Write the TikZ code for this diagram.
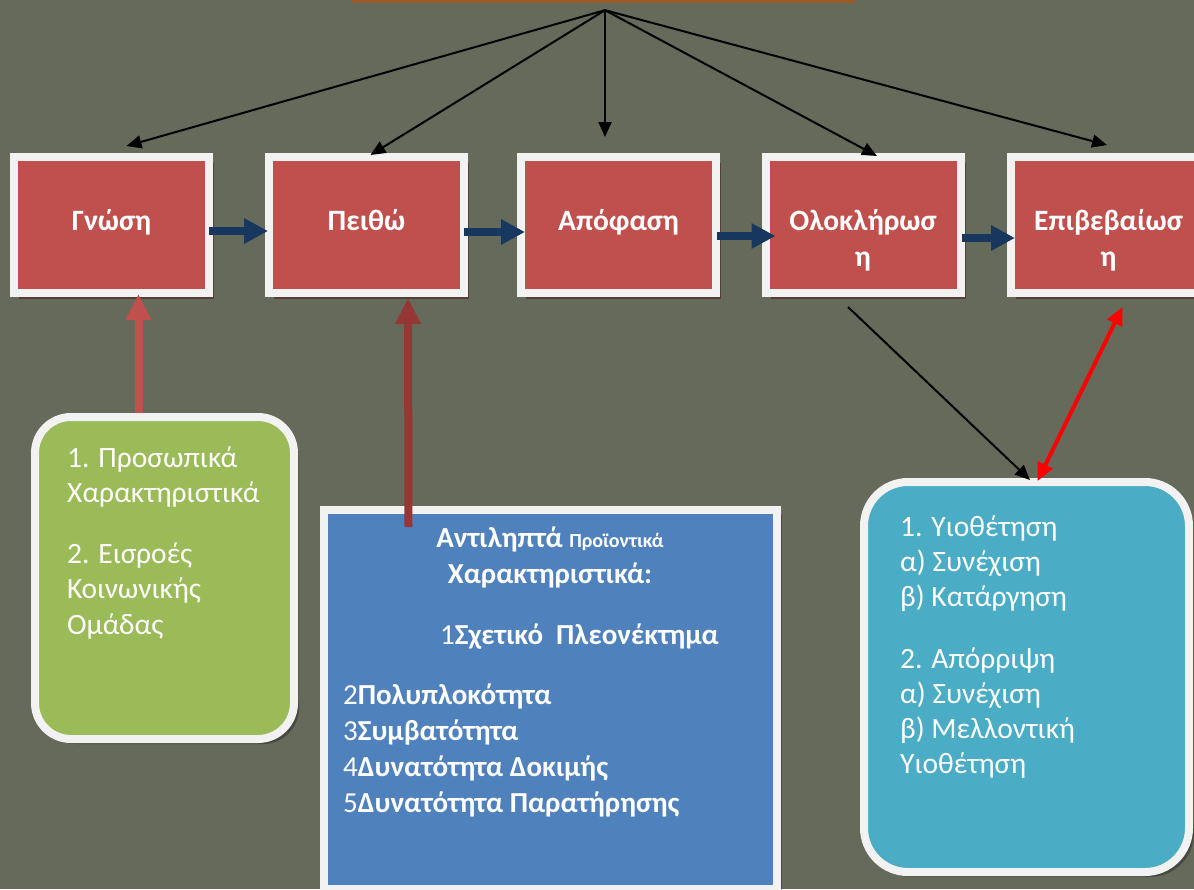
\documentclass[tikz,border=0pt]{standalone}
\usepackage{fontspec}
\setmainfont{Carlito}
\usetikzlibrary{arrows.meta,shadows}

\definecolor{backdrop}{HTML}{656A5B}
\definecolor{barcol}{HTML}{9C5A2C}
\definecolor{stagefill}{HTML}{C0504D}
\definecolor{framecol}{HTML}{F2F2F2}
\definecolor{flowcol}{HTML}{17375E}
\definecolor{greenfill}{HTML}{9BBB59}
\definecolor{bluefill}{HTML}{4F81BD}
\definecolor{cyanfill}{HTML}{4BACC6}
\definecolor{darkred}{HTML}{953735}
\tikzset{
  titlebar/.style={rectangle,fill=barcol,minimum width=503pt,minimum height=6pt,inner sep=0pt},
  stage/.style={rectangle,fill=stagefill,draw=framecol,line width=8pt,
    minimum width=195pt,minimum height=136pt,
    drop shadow={shadow xshift=5pt,shadow yshift=-6pt,fill=stagefill!40!black,opacity=.6}},
  stagetext/.style={text=white,inner sep=0pt,anchor=base,align=center,
    font=\bfseries\fontsize{29.5}{36}\selectfont},
  panel/.style={rectangle,draw=framecol,line width=8pt,
    drop shadow={shadow xshift=5pt,shadow yshift=-5pt,fill=black,opacity=.3}},
  boxtext/.style={text=white,inner sep=0pt,anchor=base west,align=left,
    font=\fontsize{29.5}{35.5}\selectfont},
  flow/.style={-{Triangle[length=24pt,width=24pt]},line width=8pt,draw=flowcol},
  fan/.style={-{Triangle[length=15pt,width=13pt]},line width=2pt,draw=black},
  feed/.style={-{Triangle[length=26pt,width=24pt]},line width=8pt},
}

\begin{document}
\begin{tikzpicture}[x=1pt,y=-1pt]
  \useasboundingbox (0,0) rectangle (1194,889);
  \fill[backdrop] (0,0) rectangle (1194,889);
  \node[titlebar] (title) at (603.5,0) {};

  % stages of the decision process
  \node[stage] (gnosi)       at (111.5,225) {};
  \node[stage] (peitho)      at (366.5,225) {};
  \node[stage] (apofasi)     at (618.5,225) {};
  \node[stage] (oloklirosi)  at (863,225) {};
  \node[stage] (epivevaiosi) at (1108.5,225) {};
  % base of a node is the baseline of its last line
  \node[stagetext] (gnosit)       at ([yshift=-77pt]gnosi.north) {Γνώση};
  \node[stagetext] (peithot)      at ([yshift=-77pt]peitho.north) {Πειθώ};
  \node[stagetext] (apofasit)     at ([yshift=-77pt]apofasi.north) {Απόφαση};
  \node[stagetext] (oloklirosit)  at ([yshift=-113pt]oloklirosi.north) {Ολοκλήρωσ\\η};
  \node[stagetext] (epivevaiosit) at ([yshift=-113pt]epivevaiosi.north) {Επιβεβαίωσ\\η};

  \draw[flow] ([xshift=-4pt,yshift=-6pt]gnosi.east) -- ([xshift=3pt,yshift=-6pt]peitho.west);
  \draw[flow] ([xshift=-4pt,yshift=-7pt]peitho.east) -- ([xshift=8pt,yshift=-7pt]apofasi.west);
  \draw[flow] ([xshift=-3pt,yshift=-11pt]apofasi.east) -- ([xshift=14pt,yshift=-11pt]oloklirosi.west);
  \draw[flow] ([xshift=-3pt,yshift=-13pt]oloklirosi.east) -- ([xshift=8pt,yshift=-13pt]epivevaiosi.west);

  % fan from the title
  \coordinate (src) at ([yshift=-7pt]title.south -| 605,0);
  \draw[fan] (src) -- ([xshift=15pt,yshift=7pt]gnosi.north);
  \draw[fan] (src) -- ([xshift=4pt,yshift=-2pt]peitho.north);
  \draw[fan] (src) -- ([xshift=-13.5pt,yshift=16pt]apofasi.north);
  \draw[fan] (src) -- ([xshift=14pt,yshift=-3pt]oloklirosi.north);
  \draw[fan] (src) -- ([xshift=-1.5pt,yshift=8pt]epivevaiosi.north);

  % factors
  \node[panel,fill=greenfill,rounded corners=36pt,minimum width=259pt,minimum height=322pt]
    (prosopika) at (164.5,578) {};
  \node[boxtext] (prosopikat) at (67,634)
    {1. Προσωπικά\\Χαρακτηριστικά\\[25pt]2. Εισροές\\Κοινωνικής\\Ομάδας};

  \node[panel,fill=bluefill,minimum width=453pt,minimum height=379pt]
    (antilipta) at (550.5,699.5) {};
  \node[boxtext,anchor=base,align=center,font=\bfseries\fontsize{29}{36}\selectfont]
    (antiliptat) at (550,583)
    {Αντιληπτά {\fontsize{20}{24}\selectfont Προϊοντικά}\\Χαρακτηριστικά:};
  \node[boxtext,font=\fontsize{29}{36}\selectfont] (pleonektima) at (440,644)
    {1\textbf{Σχετικό\ \ Πλεονέκτημα}};
  \node[boxtext,font=\fontsize{29}{35.7}\selectfont] (idiotites) at (343,812)
    {2\textbf{Πολυπλοκότητα}\\3\textbf{Συμβατότητα}\\4\textbf{Δυνατότητα Δοκιμής}\\5\textbf{Δυνατότητα Παρατήρησης}};

  \node[panel,fill=cyanfill,rounded corners=44pt,minimum width=325pt,minimum height=390pt]
    (ypothetisi) at (1026.5,677) {};
  \node[boxtext,font=\fontsize{29.5}{35}\selectfont] (ypothetisit) at (900,773)
    {1. Υιοθέτηση\\α) Συνέχιση\\β) Κατάργηση\\[27pt]2. Απόρριψη\\α) Συνέχιση\\β) Μελλοντική\\Υιοθέτηση};

  % feeds into the stages
  \draw[feed,draw=stagefill] ([xshift=-26pt]prosopika.north) -- ([xshift=27pt,yshift=3pt]gnosi.south);
  \draw[feed,draw=darkred] ([xshift=-142pt,yshift=-21pt]antilipta.north) -- ([xshift=41.5pt,yshift=-1pt]peitho.south);
  \draw[fan] ([xshift=-15pt,yshift=-10pt]oloklirosi.south) -- ([xshift=3.5pt,yshift=-2pt]ypothetisi.north);
  \draw[{Triangle[length=18pt,width=16pt]}-{Triangle[length=18pt,width=16pt]},line width=4pt,draw=red]
    ([xshift=11pt,yshift=-3pt]ypothetisi.north) -- ([xshift=14pt,yshift=-10pt]epivevaiosi.south);
\end{tikzpicture}
\end{document}
